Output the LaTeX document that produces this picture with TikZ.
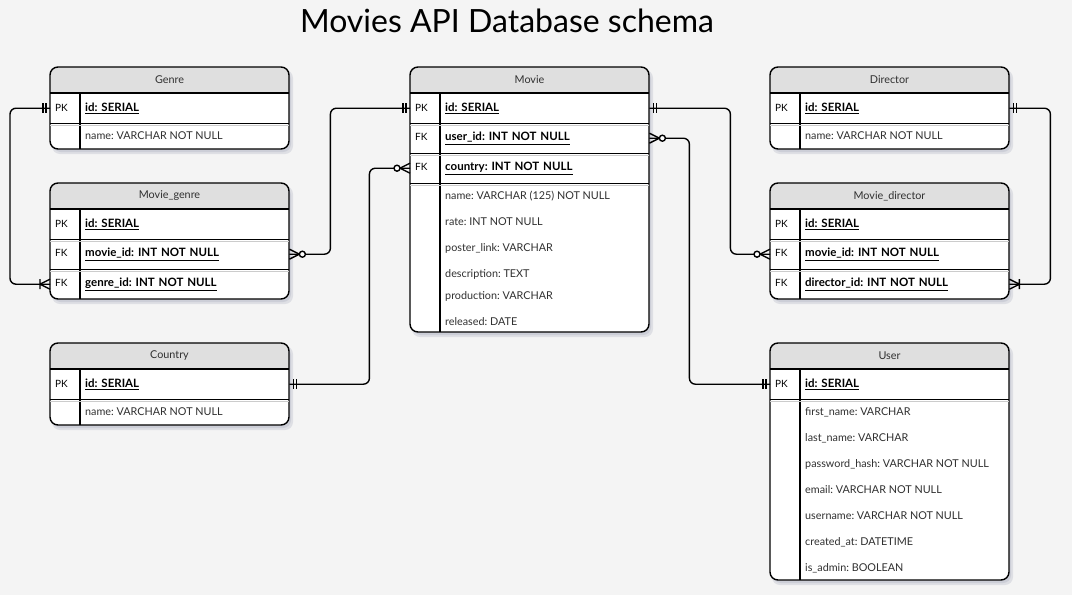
\documentclass[tikz,border=0pt]{standalone}
\usepackage{fontspec}
\setmainfont{Lato}
\usetikzlibrary{positioning}
\definecolor{bgray}{HTML}{F4F4F4}
\definecolor{hgray}{HTML}{DFDFDF}
\definecolor{tgray}{HTML}{303030}
\definecolor{sblue}{HTML}{7C82A0}
\frenchspacing
\newcommand{\keytag}[1]{\makebox[35pt][l]{\hspace{5pt}\mdseries\fontsize{10}{12}\selectfont #1}}

\tikzset{
  frame/.style={line width=1.4pt, line join=round},
  rel/.style={line width=1.4pt},
  boxshadow/.style={fill=sblue, opacity=0.18},
  headtext/.style={font=\fontsize{10.8}{12}\selectfont, text=tgray},
  keyrow/.style={anchor=north west, inner sep=0pt, text width=239pt, align=left,
    minimum height=30pt, font=\fontsize{11.5}{13}\selectfont\bfseries},
  attr/.style={anchor=west, inner sep=0pt, font=\fontsize{10.8}{12}\selectfont, text=tgray},
  one/.pic={\draw[rel] (-4,-5) -- (-4,5) (-7,-5) -- (-7,5);},
  zeromany/.pic={\draw[rel] (-10,0) -- (0,-5) (-10,0) -- (0,5);
    \draw[rel, fill=white] (-13,0) circle (3);},
  onemany/.pic={\draw[rel] (-10,0) -- (0,-5) (-10,0) -- (0,5) (-10,-5) -- (-10,5);}
}

\begin{document}
\begin{tikzpicture}[x=1pt, y=-1pt]
  \fill[bgray] (0,0) rectangle (1072,595);
  \node[font=\fontsize{32}{38}\selectfont] (title) at (507,21) {Movies API Database schema};

  % table frames
  \foreach \key/\tname/\x/\top/\bot in {genre/Genre/50/67/149, mg/Movie\_genre/50/183/299,
      country/Country/50/343/425, movie/Movie/410/67/332, director/Director/770/67/149,
      md/Movie\_director/770/183/299, user/User/770/343/580}{
    \fill[boxshadow, rounded corners=8pt] (\x+2,\top+3) rectangle (\x+243,\bot+5);
    \fill[boxshadow, rounded corners=8pt] (\x+3,\top+4) rectangle (\x+241,\bot+3);
    \fill[white, rounded corners=8pt] (\x,\top) rectangle (\x+239,\bot);
    \begin{scope}
      \clip[rounded corners=8pt] (\x,\top) rectangle (\x+239,\bot);
      \fill[hgray] (\x,\top) rectangle (\x+239,\top+26);
    \end{scope}
    \draw[frame] (\x,\top+26) -- (\x+239,\top+26) (\x+30,\top+26) -- (\x+30,\bot);
    \draw[frame, rounded corners=8pt] (\x,\top) rectangle (\x+239,\bot);
    \node[headtext] (\key-head) at (\x+119.5,\top+13) {\tname};
  }

  % Genre
  \node[keyrow] (genre-id) at (50,93) {\keytag{PK}\underline{id: SERIAL}};
  \node[attr] (genre-name) at (85,136) {name: VARCHAR NOT NULL};
  % Movie_genre
  \node[keyrow] (mg-id) at (50,209) {\keytag{PK}\underline{id: SERIAL}};
  \node[keyrow] (mg-movie) at (50,239) {\keytag{FK}\underline{movie\_id: INT NOT NULL}};
  \node[keyrow] (mg-genre) at (50,269) {\keytag{FK}\underline{genre\_id: INT NOT NULL}};
  % Country
  \node[keyrow] (country-id) at (50,369) {\keytag{PK}\underline{id: SERIAL}};
  \node[attr] (country-name) at (85,412) {name: VARCHAR NOT NULL};
  % Movie
  \node[keyrow] (movie-id) at (410,93) {\keytag{PK}\underline{id: SERIAL}};
  \node[keyrow] (movie-user) at (410,123) {\keytag{FK}\underline{user\_id: INT NOT NULL}};
  \node[keyrow] (movie-country) at (410,153) {\keytag{FK}\underline{country: INT NOT NULL}};
  \foreach \n/\y/\txt in {1/196/name: VARCHAR (125) NOT NULL, 2/222/rate: INT NOT NULL,
      3/248/poster\_link: VARCHAR, 4/274/description: TEXT, 5/296/production: VARCHAR,
      6/322/released: DATE}
    \node[attr] (movie-a\n) at (445,\y) {\txt};
  % Director
  \node[keyrow] (director-id) at (770,93) {\keytag{PK}\underline{id: SERIAL}};
  \node[attr] (director-name) at (805,136) {name: VARCHAR NOT NULL};
  % Movie_director
  \node[keyrow] (md-id) at (770,209) {\keytag{PK}\underline{id: SERIAL}};
  \node[keyrow] (md-movie) at (770,239) {\keytag{FK}\underline{movie\_id: INT NOT NULL}};
  \node[keyrow] (md-director) at (770,269) {\keytag{FK}\underline{director\_id: INT NOT NULL}};
  % User
  \node[keyrow] (user-id) at (770,369) {\keytag{PK}\underline{id: SERIAL}};
  \foreach \n/\y/\txt in {1/412/first\_name: VARCHAR, 2/438/last\_name: VARCHAR,
      3/464/password\_hash: VARCHAR NOT NULL, 4/490/email: VARCHAR NOT NULL,
      5/516/username: VARCHAR NOT NULL, 6/542/created\_at: DATETIME, 7/568/is\_admin: BOOLEAN}
    \node[attr] (user-a\n) at (805,\y) {\txt};

  % row separators
  \foreach \r in {genre-id, mg-id, mg-movie, country-id, movie-id, movie-user,
      movie-country, director-id, md-id, md-movie, user-id}{
    \draw[line width=1pt, black!20] ([yshift=-2.4pt]\r.south west) -- ([yshift=-2.4pt]\r.south east);
    \draw[frame] (\r.south west) -- (\r.south east);
  }

  % relations
  \draw[rel, rounded corners=6pt] (genre-id.west) -- ++(-40,0) |- (mg-genre.west);
  \draw[rel, rounded corners=6pt] (mg-movie.east) -- ++(41,0) |- (movie-id.west);
  \draw[rel, rounded corners=6pt] (country-id.east) -- ++(80,0) |- (movie-country.west);
  \draw[rel, rounded corners=6pt] (movie-id.east) -- ++(81,0) |- (md-movie.west);
  \draw[rel, rounded corners=6pt] (movie-user.east) -- ++(40,0) |- (user-id.west);
  \draw[rel, rounded corners=6pt] (director-id.east) -- ++(41,0) |- (md-director.east);

  \pic at (genre-id.west) {one};
  \pic at (mg-genre.west) {onemany};
  \pic[xscale=-1] at (mg-movie.east) {zeromany};
  \pic at (movie-id.west) {one};
  \pic[xscale=-1] at (country-id.east) {one};
  \pic at (movie-country.west) {zeromany};
  \pic[xscale=-1] at (movie-id.east) {one};
  \pic at (md-movie.west) {zeromany};
  \pic[xscale=-1] at (movie-user.east) {zeromany};
  \pic at (user-id.west) {one};
  \pic[xscale=-1] at (director-id.east) {one};
  \pic[xscale=-1] at (md-director.east) {onemany};
\end{tikzpicture}
\end{document}
